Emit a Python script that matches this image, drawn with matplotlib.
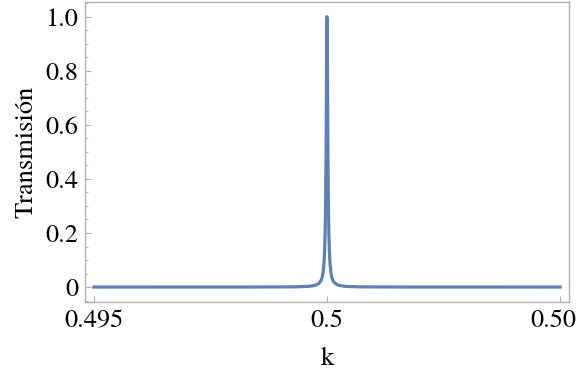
import matplotlib.pyplot as plt
from matplotlib.ticker import MultipleLocator

# transmission curve (sharp resonance at k = 0.5)
k_vals = [0.495, 0.4985, 0.4993, 0.4996, 0.49975, 0.49983, 0.49987,
          0.4999, 0.49992, 0.49994, 0.49995, 0.49996, 0.49997, 0.49998,
          0.499985, 0.49999, 0.499995, 0.5,
          0.500005, 0.50001, 0.500015, 0.50002, 0.50003, 0.50004, 0.50005,
          0.50006, 0.50008, 0.5001, 0.50013, 0.50017, 0.50025, 0.5004,
          0.5007, 0.5015, 0.505]
t_vals = [0.0, 0.0002, 0.0008, 0.0025, 0.0064, 0.014, 0.023,
          0.038, 0.059, 0.10, 0.14, 0.20, 0.31, 0.50,
          0.64, 0.80, 0.94, 1.0,
          0.94, 0.80, 0.64, 0.50, 0.31, 0.20, 0.14,
          0.10, 0.059, 0.038, 0.023, 0.014, 0.0064, 0.0025,
          0.0008, 0.0002, 0.0]

x_ticks = [0.495, 0.5, 0.505]
x_ticklabels = ["0.495", "0.5", "0.505"]
y_ticks = [0, 0.2, 0.4, 0.6, 0.8, 1.0]
y_ticklabels = ["0", "0.2", "0.4", "0.6", "0.8", "1.0"]

# Times-like face
plt.rcParams["font.family"] = ["TeX Gyre Termes", "Liberation Serif", "DejaVu Serif"]

fig = plt.figure(figsize=(5.76, 3.76), dpi=100)
ax = fig.add_axes([0.1476, 0.197, 0.8402, 0.798])

ax.plot(k_vals, t_vals, color="#5e81b5", lw=2.3, solid_joinstyle="round")

ax.set_xlim(0.49481, 0.50519)
ax.set_ylim(-0.055, 1.055)

ax.set_xticks(x_ticks)
ax.set_xticklabels(x_ticklabels)
ax.set_yticks(y_ticks)
ax.set_yticklabels(y_ticklabels)
ax.yaxis.set_minor_locator(MultipleLocator(0.05))

frame_col = "#b0b0b0"
for s in ax.spines.values():
    s.set_color(frame_col)
    s.set_linewidth(1.0)

ax.tick_params(axis="both", which="major", direction="in", length=4,
               width=0.8, color=frame_col, labelsize=19, pad=5)
ax.tick_params(axis="y", which="minor", direction="in", length=2.2,
               width=0.6, color=frame_col)

ax.set_xlabel("k", fontsize=19, labelpad=10)
ax.set_ylabel("Transmisión", fontsize=19, labelpad=5)

fig.savefig("out.png", dpi=100)
